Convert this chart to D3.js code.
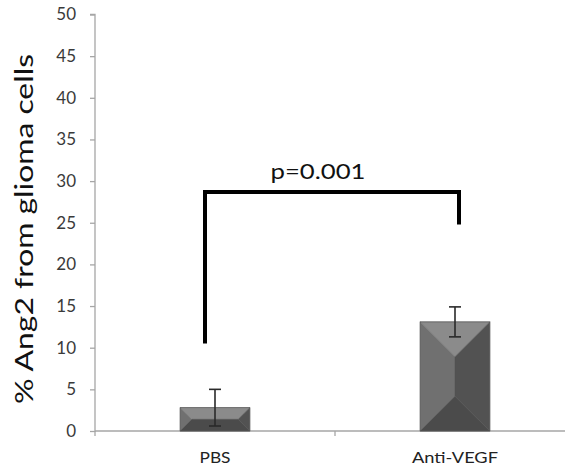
<!DOCTYPE html>
<html>
<head>
<meta charset="utf-8">
<script src="https://cdn.jsdelivr.net/npm/d3@7"></script>
<style>
  html, body { margin: 0; padding: 0; background: #fff; }
  svg { display: block; }
</style>
</head>
<body>
<svg id="chart" width="565" height="470"></svg>
<script>
// ---- data ----
const categories = ["PBS", "Anti-VEGF"];
const means = [2.8, 13.1];
const errors = [2.2, 1.8];
const yTicks = [0, 5, 10, 15, 20, 25, 30, 35, 40, 45, 50];
const yTitle = "% Ang2 from glioma cells";
const pLabel = "p=0.001";
const bracketEnds = [10.5, 24.8];   // bottom values of bracket legs
const bracketTop = 28.7;

// ---- layout ----
const svg = d3.select("#chart");
const font = "Lato, 'Open Sans', sans-serif";
const x = d3.scaleBand().domain(categories).range([95, 575])
  .paddingInner(0.71).paddingOuter(0.355);
const y = d3.scaleLinear().domain([0, 50]).range([431, 14.5]);
const step = x.step();

// y axis
const yAxis = d3.axisLeft(y).tickValues(yTicks).tickSize(5).tickPadding(14);
const gy = svg.append("g").attr("transform", "translate(95,0)").call(yAxis);
gy.select(".domain").attr("stroke", "#a6a6a6").attr("stroke-width", 1.3)
  .attr("d", `M-5,${y(50)}H0V${y(0) + 1}`);
gy.selectAll(".tick line").attr("stroke", "#a6a6a6").attr("stroke-width", 1.3);
gy.selectAll(".tick text").attr("font-family", font).attr("font-size", 17)
  .attr("fill", "#3a3a3a");

// x axis line and category dividers
const xLeft = x.range()[0], xRight = x.range()[1];
svg.append("line").attr("x1", xLeft).attr("x2", xRight)
  .attr("y1", y(0)).attr("y2", y(0))
  .attr("stroke", "#a6a6a6").attr("stroke-width", 1.3);
const dividers = d3.range(categories.length + 1).map(i => xLeft + i * step);
svg.selectAll(".div").data(dividers).enter().append("line")
  .attr("x1", d => d).attr("x2", d => d)
  .attr("y1", y(0)).attr("y2", y(0) + 5)
  .attr("stroke", "#a6a6a6").attr("stroke-width", 1.3);

// x labels
const xLabelLen = [31, 86];
svg.selectAll(".xl").data(categories).enter().append("text")
  .attr("x", d => x(d) + x.bandwidth() / 2)
  .attr("y", 463)
  .attr("text-anchor", "middle")
  .attr("font-family", font).attr("font-size", 15.5)
  .attr("fill", "#222")
  .attr("textLength", (d, i) => xLabelLen[i])
  .attr("lengthAdjust", "spacingAndGlyphs")
  .text(d => d);

// bevelled bars
const facetColors = { top: "#8b8b8b", left: "#707070", right: "#525252", bottom: "#4b4b4b" };
categories.forEach((c, i) => {
  const x0 = x(c), x1 = x(c) + x.bandwidth();
  const y0 = y(means[i]), y1 = y(0);
  const w = x1 - x0, h = y1 - y0;
  const d = Math.min(w, h) / 2;
  const ix0 = x0 + d, ix1 = x1 - d, iy0 = y0 + d, iy1 = y1 - d;
  const g = svg.append("g");
  const poly = (pts, fill) => g.append("polygon")
    .attr("points", pts.map(p => p.join(",")).join(" "))
    .attr("fill", fill).attr("stroke", fill).attr("stroke-width", 0.5);
  poly([[x0, y0], [x1, y0], [ix1, iy0], [ix0, iy0]], facetColors.top);
  poly([[x0, y0], [ix0, iy0], [ix0, iy1], [x0, y1]], facetColors.left);
  poly([[x1, y0], [ix1, iy0], [ix1, iy1], [x1, y1]], facetColors.right);
  poly([[x0, y1], [ix0, iy1], [ix1, iy1], [x1, y1]], facetColors.bottom);
  if (ix1 > ix0 && iy1 > iy0) poly([[ix0, iy0], [ix1, iy0], [ix1, iy1], [ix0, iy1]], "#666");
  g.append("rect").attr("x", x0).attr("y", y0).attr("width", w).attr("height", h)
    .attr("fill", "none").attr("stroke", "#5a5a5a").attr("stroke-width", 0.8);
});

// error bars
categories.forEach((c, i) => {
  const cx = x(c) + x.bandwidth() / 2;
  const hi = y(means[i] + errors[i]), lo = y(means[i] - errors[i]);
  const g = svg.append("g").attr("stroke", "#2a2a2a").attr("stroke-width", 1.6);
  g.append("line").attr("x1", cx).attr("x2", cx).attr("y1", hi).attr("y2", lo);
  g.append("line").attr("x1", cx - 6).attr("x2", cx + 6).attr("y1", hi).attr("y2", hi);
  g.append("line").attr("x1", cx - 6).attr("x2", cx + 6).attr("y1", lo).attr("y2", lo);
});

// significance bracket
const bxL = x(categories[0]) + x.bandwidth() / 2 - 10;
const bxR = x(categories[1]) + x.bandwidth() / 2 + 4;
svg.append("path")
  .attr("d", `M${bxL},${y(bracketEnds[0])}V${y(bracketTop)}H${bxR}V${y(bracketEnds[1])}`)
  .attr("fill", "none").attr("stroke", "#000").attr("stroke-width", 4)
  .attr("stroke-linejoin", "miter");
svg.append("text")
  .attr("x", (bxL + bxR) / 2 - 14)
  .attr("y", y(bracketTop) - 13)
  .attr("text-anchor", "middle")
  .attr("font-family", font).attr("font-size", 21).attr("fill", "#111")
  .attr("textLength", 95).attr("lengthAdjust", "spacingAndGlyphs")
  .text(pLabel);

// y title
svg.append("text")
  .attr("transform", `translate(33,229) rotate(-90)`)
  .attr("text-anchor", "middle")
  .attr("font-family", font).attr("font-size", 24.5).attr("fill", "#111")
  .attr("textLength", 350).attr("lengthAdjust", "spacingAndGlyphs")
  .text(yTitle);
</script>
</body>
</html>
